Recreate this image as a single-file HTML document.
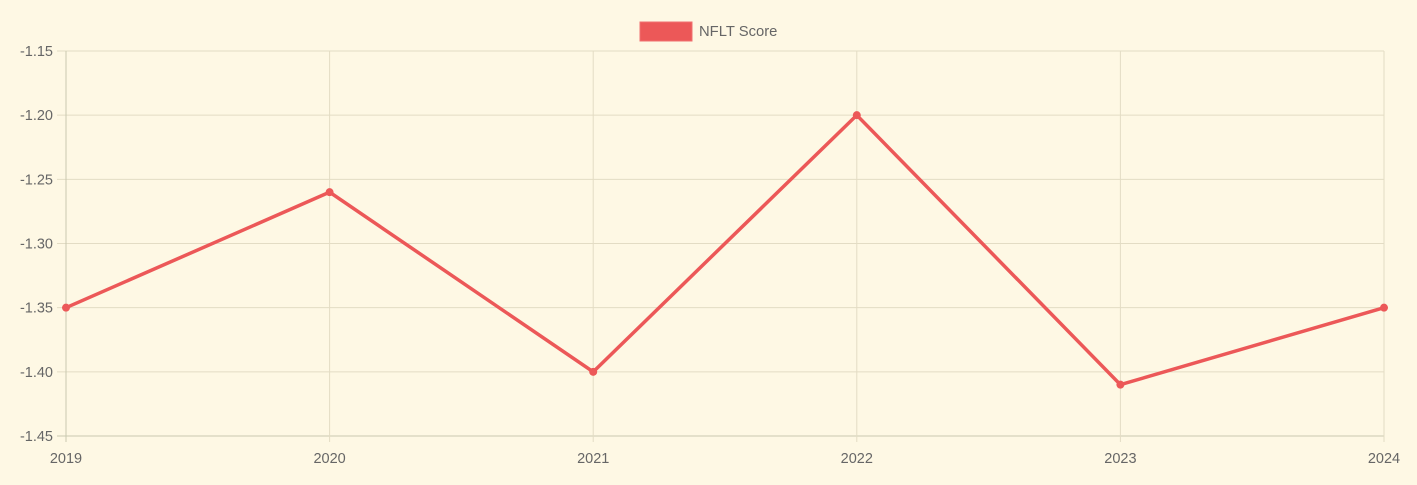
<!DOCTYPE html>
<html><head><meta charset="utf-8"><style>
html,body{margin:0;padding:0;background:#fef8e4;}
svg{display:block;font-family:"Liberation Sans",sans-serif;}
</style></head><body>
<svg id="chart" width="1417" height="485">
<rect width="1417" height="485" fill="#fef8e4"/>
<g id="grid"></g><g id="axes"></g><g id="series"></g>
<g>
<rect x="640" y="22" width="52" height="19" fill="#ec5858" stroke="#f07070" stroke-width="1"/>
<text x="699" y="36" font-size="14.8" fill="#666">NFLT Score</text>
</g>
</svg>
<script>
const categories=["2019","2020","2021","2022","2023","2024"];
const values=[-1.35,-1.26,-1.40,-1.20,-1.41,-1.35];
const yTicks=[-1.15,-1.20,-1.25,-1.30,-1.35,-1.40,-1.45];
const L=66,R=1384,T=51,B=436,yMin=-1.45,yMax=-1.15;
const xs=i=>L+(R-L)*i/(categories.length-1);
const ys=v=>B-(v-yMin)/(yMax-yMin)*(B-T);
const NS="http://www.w3.org/2000/svg";
function mk(tag,attrs,parent){const e=document.createElementNS(NS,tag);for(const k in attrs)e.setAttribute(k,attrs[k]);parent.appendChild(e);return e;}
const grid=document.getElementById('grid'),axes=document.getElementById('axes'),series=document.getElementById('series');
yTicks.forEach(t=>{const y=ys(t);
 const l=mk('line',{x1:57,x2:R,y1:y,y2:y,stroke:t===yMin?'#c9c9b0':'#e3dcc4','stroke-width':1},grid);
 
 
 const tx=mk('text',{x:53,y:y+5,'text-anchor':'end','font-size':14.5,fill:'#666'},axes);
 tx.textContent=t.toFixed(2);
 
 
});
categories.forEach((c,i)=>{const x=xs(i);
 const l=mk('line',{x1:x,x2:x,y1:T,y2:B+6,stroke:i===0?'#c9c9b0':'#e3dcc4','stroke-width':1},grid);
 
 
 const tx=mk('text',{x:x,y:463,'text-anchor':'middle','font-size':14.5,fill:'#666'},axes);
 tx.textContent=c;
 
 
});
const pts=values.map((v,i)=>xs(i)+','+ys(v)).join(' ');
const pl=mk('polyline',{points:pts,fill:'none',stroke:'#ec5858','stroke-width':3.5,'stroke-linejoin':'miter'},series);


values.forEach((v,i)=>{const c=mk('circle',{cx:xs(i),cy:ys(v),r:4,fill:'#ec5858'},series);
 
 
});
</script>
</body></html>
